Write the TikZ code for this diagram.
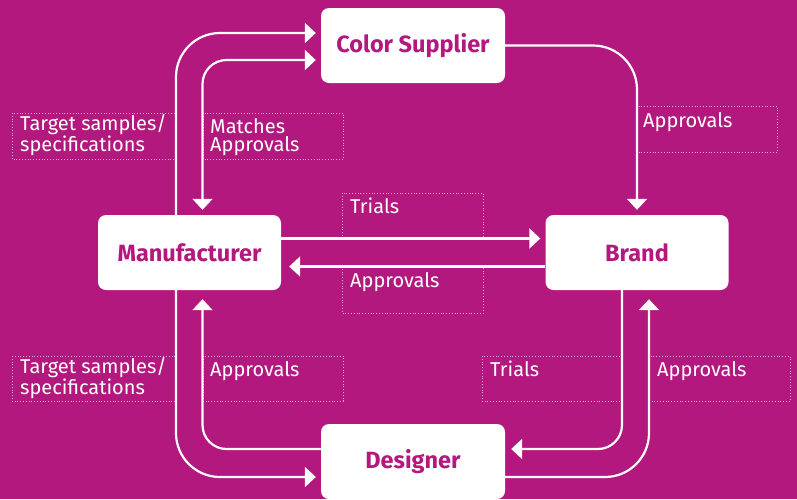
\documentclass[tikz,border=0pt]{standalone}
\usepackage{fontspec}
\setmainfont{Fira Sans}
\usetikzlibrary{arrows.meta}
\definecolor{mag}{HTML}{B3187F}
\definecolor{dotc}{HTML}{E9A6D3}
\tikzset{
  x=1pt, y=-1pt,
  entity/.style={fill=white, rounded corners=8pt, minimum width=184pt, minimum height=75pt, inner sep=0pt, text=mag, font=\fontsize{23.5}{26}\selectfont\bfseries},
  flow/.style={draw=white, line width=2.2pt, -{Triangle[length=11pt,width=20pt]}},
  flowtwo/.style={draw=white, line width=2.2pt, {Triangle[length=11pt,width=20pt]}-{Triangle[length=11pt,width=20pt]}},
  lbl/.style={text=white, anchor=base west, inner sep=0pt, font=\fontsize{20}{18.5}\selectfont, align=left},
  dotbox/.style={draw=dotc, dotted, line width=0.8pt}
}
\begin{document}
\begin{tikzpicture}
\fill[mag] (0,0) rectangle (797,499);
\useasboundingbox (0,0) rectangle (797,499);
% dotted label boxes
\draw[dotbox] (12,113) rectangle (176,159);
\draw[dotbox] (203,113) rectangle (343,159);
\draw[dotbox] (637,106) rectangle (777,152);
\draw[dotbox] (342,193) rectangle (483,238);
\draw[dotbox] (342,266) rectangle (483,313);
\draw[dotbox] (12,356) rectangle (176,401);
\draw[dotbox] (203,356) rectangle (343,401);
\draw[dotbox] (482,356) rectangle (622,401);
\draw[dotbox] (649,356) rectangle (790,401);
% entities
\node[entity] (CS) at (413,45.5) {Color Supplier};
\node[entity, minimum width=183pt] (M) at (189.5,252.5) {Manufacturer};
\node[entity, minimum width=183pt] (B) at (637,252.5) {Brand};
\node[entity] (D) at (413,461.5) {Designer};
% connectors
\draw[flow, rounded corners=44pt, shorten >=5pt] ([xshift=-13.5pt]M.north) |- ([yshift=12.5pt]CS.west);
\draw[flowtwo, rounded corners=24pt, shorten >=5pt, shorten <=5pt] ([xshift=13pt]M.north) |- ([yshift=-14.5pt]CS.west);
\draw[flow, rounded corners=44pt, shorten >=5pt] (CS.east) -| (B.north);
\draw[flow, shorten >=5pt] ([yshift=14pt]M.east) -- ([yshift=14pt]B.west);
\draw[flow, shorten >=8pt] ([yshift=-14pt]B.west) -- ([yshift=-14pt]M.east);
\draw[flow, rounded corners=44pt, shorten >=5pt] ([xshift=-13.5pt]M.south) |- ([yshift=-15.5pt]D.west);
\draw[flow, rounded corners=24pt, shorten >=9pt] ([yshift=12.5pt]D.west) -| ([xshift=13pt]M.south);
\draw[flow, rounded corners=24pt, shorten >=6pt] ([xshift=-15pt]B.south) |- ([yshift=12.5pt]D.east);
\draw[flow, rounded corners=44pt, shorten >=9pt] ([yshift=-15.5pt]D.east) -| ([xshift=12pt]B.south);
% labels (multi-line labels anchored at the baseline of their last line)
\node[lbl] (l1) at (20,151.5) {Target samples/\\specifications};
\node[lbl] (l2) at (210,151.5) {Matches\\Approvals};
\node[lbl] (l3) at (643,127) {Approvals};
\node[lbl] (l4) at (350,213) {Trials};
\node[lbl] (l5) at (350,287) {Approvals};
\node[lbl] (l6) at (20,394) {Target samples/\\specifications};
\node[lbl] (l7) at (210,376) {Approvals};
\node[lbl] (l8) at (490,376) {Trials};
\node[lbl] (l9) at (657,376) {Approvals};
\end{tikzpicture}
\end{document}
